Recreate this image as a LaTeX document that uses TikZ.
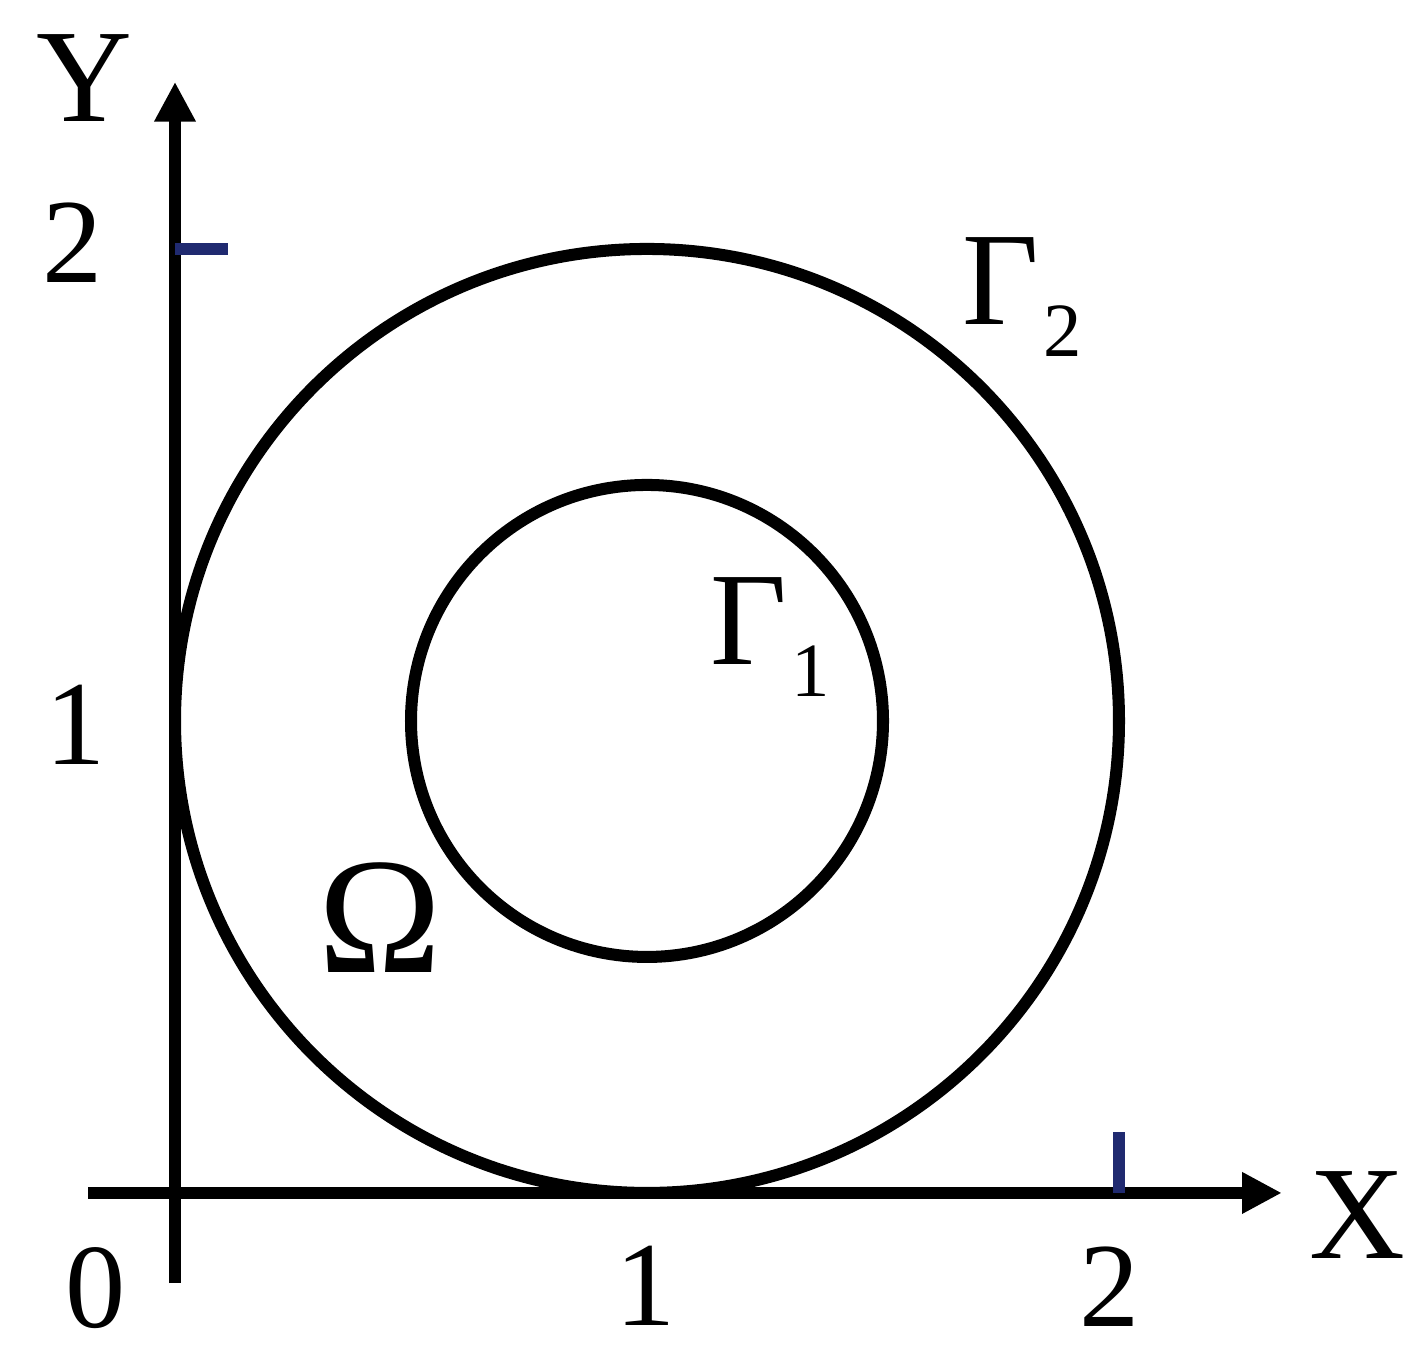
\documentclass[tikz,border=0pt]{standalone}
\usepackage{fontspec}
\setmainfont{Liberation Serif}
\usetikzlibrary{arrows.meta}
\definecolor{tickblue}{RGB}{32,42,112}
\newcommand{\gsub}[1]{Γ\kern1pt\raisebox{-7.7pt}{\fontsize{18.5}{18.5}\selectfont #1}}

\begin{document}
\begin{tikzpicture}[x=4cm, y=4cm,
    axis/.style={line width=2.9pt, -{Triangle[length=9.6pt, width=9.4pt]}},
    ring/.style={line width=2.9pt},
    tickmark/.style={line width=3.1pt, tickblue},
    lbl/.style={inner sep=0pt, anchor=base, font=\fontsize{32}{32}\selectfont},
    num/.style={lbl, font=\fontsize{29}{29}\selectfont}]
   \useasboundingbox (-0.3708,-0.3771) rectangle (2.6547,2.5275);

   % axes
   \coordinate (o) at (0,0);
   \coordinate (xs) at (-0.184,0);
   \coordinate (xe) at (2.345,0);
   \coordinate (ys) at (0,-0.191);
   \coordinate (ye) at (0,2.354);
   \draw[axis] (xs) -- (xe);
   \draw[axis] (ys) -- (ye);

   % ticks
   \coordinate (xt) at (2,0);
   \coordinate (xtt) at (2,0.129);
   \coordinate (yt) at (0,2);
   \coordinate (ytt) at (0.112,2);
   \draw[tickmark] (xt) -- (xtt);
   \draw[tickmark] (yt) -- (ytt);

   % boundaries
   \coordinate (c) at (1,1);
   \draw[ring] (c) circle (1);
   \draw[ring] (c) circle (0.5);

   % labels
   \node[lbl] (ylab) at (-0.191,2.269) {Y};
   \node[lbl] (xlab) at (2.506,-0.138) {X};
   \node[num] (y2) at (-0.216,1.928) {2};
   \node[num] (y1) at (-0.210,0.907) {1};
   \node[num] (zero) at (-0.169,-0.286) {0};
   \node[num] (x1) at (0.996,-0.280) {1};
   \node[num] (x2) at (1.981,-0.284) {2};
   \node[lbl, anchor=base west] (g2) at (1.667,1.839) {\gsub{2}};
   \node[lbl, anchor=base west] (g1) at (1.133,1.119) {\gsub{1}};
   \node[lbl, font=\fontsize{40}{40}\selectfont] (om) at (0.434,0.466) {Ω};
\end{tikzpicture}
\end{document}
